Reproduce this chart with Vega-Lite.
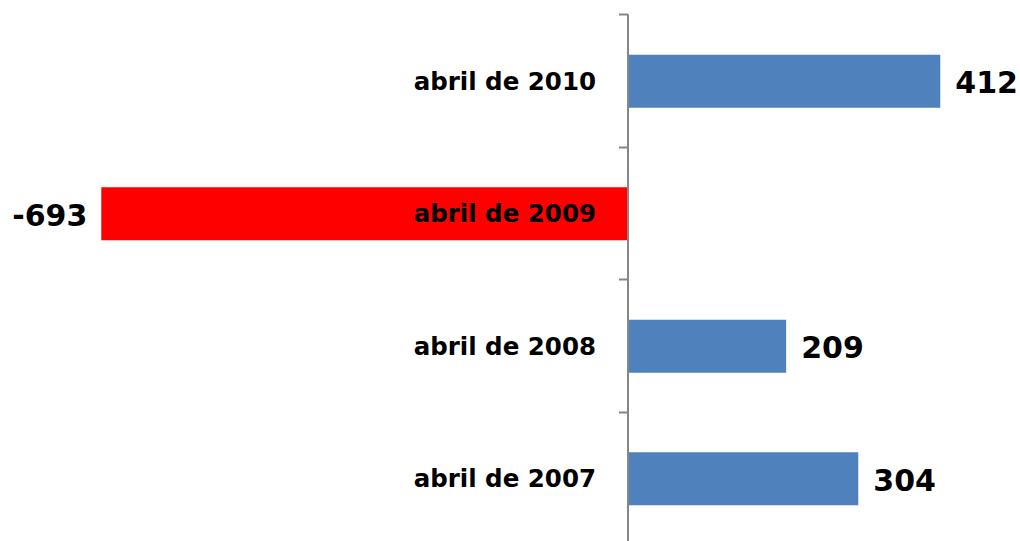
{
  "$schema": "https://vega.github.io/schema/vega-lite/v6.json",
  "width": 1020,
  "height": 530,
  "autosize": {"type": "none"},
  "padding": {"top": 14, "left": 0, "right": 0, "bottom": 0},
  "background": "white",
  "config": {"view": {"stroke": null}},
  "data": {
    "values": [
      {"periodo": "abril de 2010", "valor": 412},
      {"periodo": "abril de 2009", "valor": -693},
      {"periodo": "abril de 2008", "valor": 209},
      {"periodo": "abril de 2007", "valor": 304}
    ]
  },
  "encoding": {
    "y": {
      "field": "periodo",
      "type": "nominal",
      "sort": null,
      "scale": {"paddingInner": 0, "paddingOuter": 0},
      "axis": {
        "title": null,
        "offset": -627.5,
        "domain": true,
        "domainColor": "#868686",
        "domainWidth": 2,
        "ticks": true,
        "tickBand": "extent",
        "tickSize": 9,
        "tickColor": "#868686",
        "tickWidth": 2,
        "labelPadding": 23,
        "labelOffset": 2,
        "labelFont": "DejaVu Sans",
        "labelFontWeight": "bold",
        "labelFontSize": 24.5,
        "labelColor": "#000000",
        "labelLimit": 0,
        "zindex": 1
      }
    },
    "x": {
      "field": "valor",
      "type": "quantitative",
      "scale": {"domain": [-826.4, 517], "nice": false, "zero": false},
      "axis": null
    }
  },
  "layer": [
    {
      "mark": {"type": "bar", "height": {"band": 0.4}, "yOffset": 1},
      "encoding": {
        "x2": {"datum": 0},
        "color": {
          "condition": {"test": "datum.valor < 0", "value": "#FF0000"},
          "value": "#4F81BD"
        }
      }
    },
    {
      "transform": [{"filter": "datum.valor >= 0"}],
      "mark": {"type": "text", "align": "left", "baseline": "middle", "dx": 15, "dy": 4, "font": "DejaVu Sans", "fontWeight": "bold", "fontSize": 30, "color": "#000000"},
      "encoding": {"text": {"field": "valor", "type": "nominal"}}
    },
    {
      "transform": [{"filter": "datum.valor < 0"}],
      "mark": {"type": "text", "align": "right", "baseline": "middle", "dx": -14, "dy": 4, "font": "DejaVu Sans", "fontWeight": "bold", "fontSize": 30, "color": "#000000"},
      "encoding": {"text": {"field": "valor", "type": "nominal"}}
    }
  ]
}
